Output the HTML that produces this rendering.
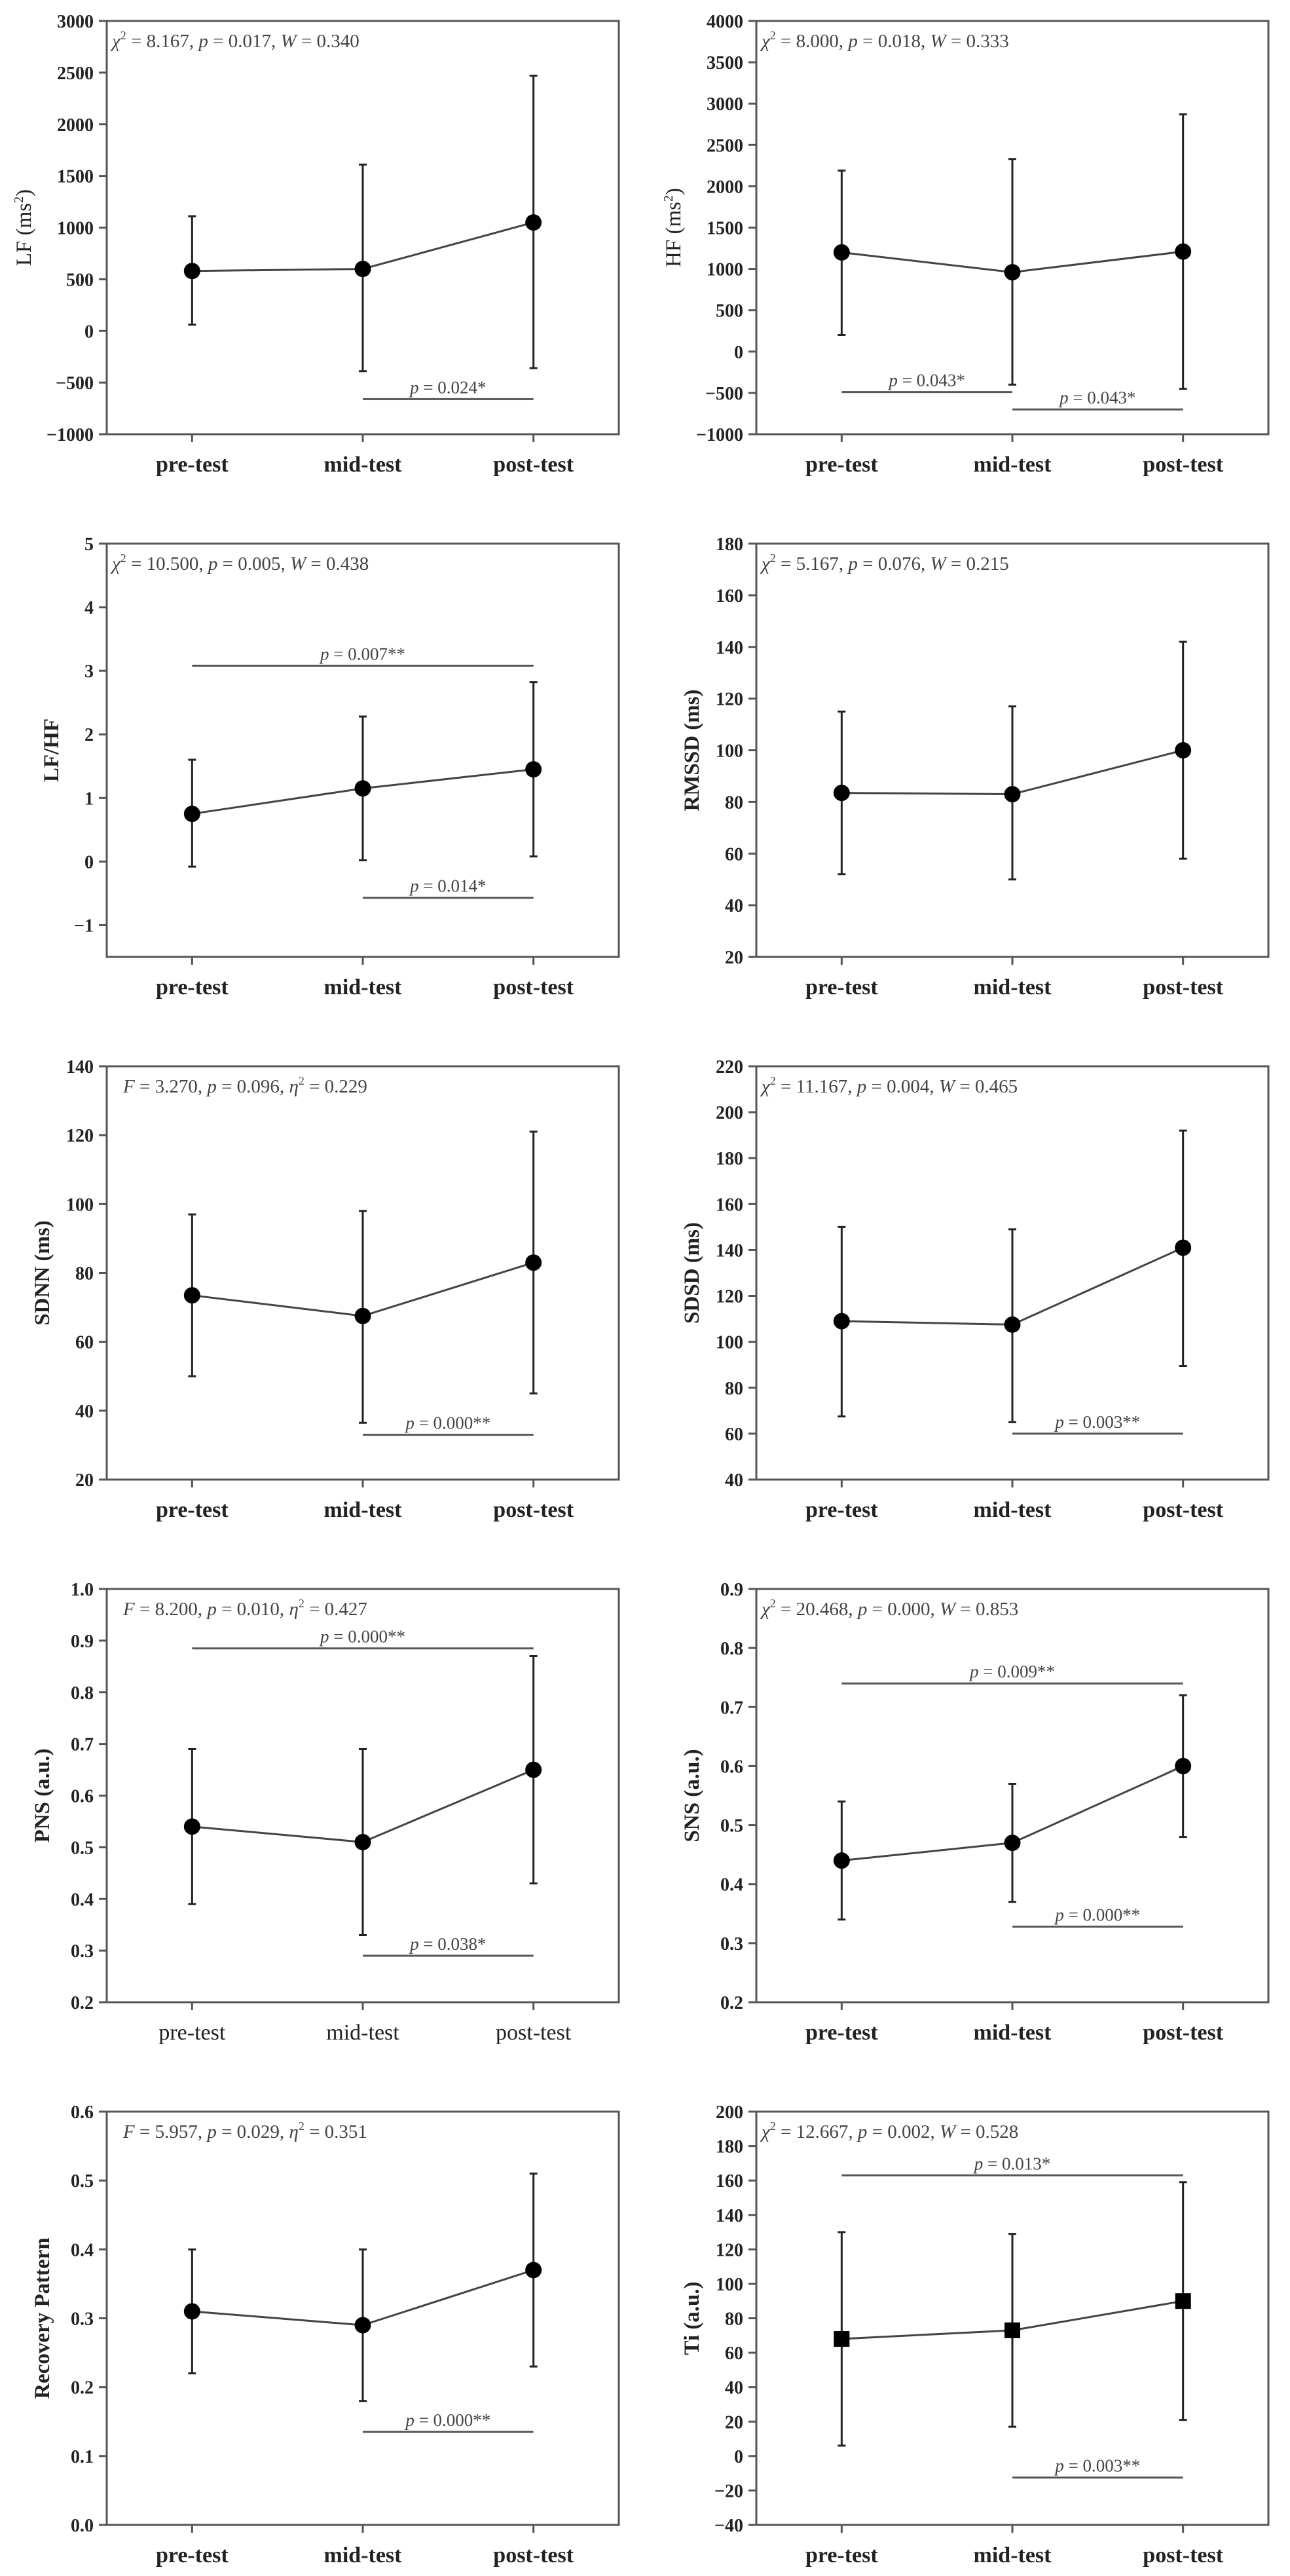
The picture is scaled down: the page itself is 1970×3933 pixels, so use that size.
<!DOCTYPE html>
<html><head><meta charset="utf-8">
<style>
html,body{margin:0;padding:0;background:#fff;}
svg{display:block;}
text{font-family:"Liberation Serif",serif;}
</style></head>
<body>
<svg id="fig" width="1970" height="3933" viewBox="0 0 1970 3933" xmlns="http://www.w3.org/2000/svg"></svg>
<script>
// ---- data arrays ----
const categories = ["pre-test","mid-test","post-test"];

const lfMeans = [580, 600, 1050];
const lfLow = [60, -390, -360];
const lfHigh = [1110, 1610, 2470];
const lfTicks = ["−1000","−500","0","500","1000","1500","2000","2500","3000"];

const hfMeans = [1200, 960, 1210];
const hfLow = [200, -400, -450];
const hfHigh = [2190, 2330, 2870];
const hfTicks = ["−1000","−500","0","500","1000","1500","2000","2500","3000","3500","4000"];

const lfhfMeans = [0.75, 1.15, 1.45];
const lfhfLow = [-0.08, 0.02, 0.08];
const lfhfHigh = [1.6, 2.28, 2.82];
const lfhfTicks = ["−1","0","1","2","3","4","5"];

const rmssdMeans = [83.5, 83, 100];
const rmssdLow = [52, 50, 58];
const rmssdHigh = [115, 117, 142];
const rmssdTicks = ["20","40","60","80","100","120","140","160","180"];

const sdnnMeans = [73.5, 67.5, 83];
const sdnnLow = [50, 36.5, 45];
const sdnnHigh = [97, 98, 121];
const sdnnTicks = ["20","40","60","80","100","120","140"];

const sdsdMeans = [109, 107.5, 141];
const sdsdLow = [67.5, 65, 89.5];
const sdsdHigh = [150, 149, 192];
const sdsdTicks = ["40","60","80","100","120","140","160","180","200","220"];

const pnsMeans = [0.54, 0.51, 0.65];
const pnsLow = [0.39, 0.33, 0.43];
const pnsHigh = [0.69, 0.69, 0.87];
const pnsTicks = ["0.2","0.3","0.4","0.5","0.6","0.7","0.8","0.9","1.0"];

const snsMeans = [0.44, 0.47, 0.60];
const snsLow = [0.34, 0.37, 0.48];
const snsHigh = [0.54, 0.57, 0.72];
const snsTicks = ["0.2","0.3","0.4","0.5","0.6","0.7","0.8","0.9"];

const rpMeans = [0.31, 0.29, 0.37];
const rpLow = [0.22, 0.18, 0.23];
const rpHigh = [0.40, 0.40, 0.51];
const rpTicks = ["0.0","0.1","0.2","0.3","0.4","0.5","0.6"];

const tiMeans = [68, 73, 90];
const tiLow = [6, 17, 21];
const tiHigh = [130, 129, 159];
const tiTicks = ["−40","−20","0","20","40","60","80","100","120","140","160","180","200"];

// significance brackets: [fromIndex, toIndex, yValue, label]
const lfSig = [[1,2,-660,"0.024*"]];
const hfSig = [[0,1,-490,"0.043*"],[1,2,-700,"0.043*"]];
const lfhfSig = [[0,2,3.08,"0.007**"],[1,2,-0.57,"0.014*"]];
const rmssdSig = [];
const sdnnSig = [[1,2,33,"0.000**"]];
const sdsdSig = [[1,2,60,"0.003**"]];
const pnsSig = [[0,2,0.885,"0.000**"],[1,2,0.29,"0.038*"]];
const snsSig = [[0,2,0.74,"0.009**"],[1,2,0.328,"0.000**"]];
const rpSig = [[1,2,0.135,"0.000**"]];
const tiSig = [[0,2,163,"0.013*"],[1,2,-12.5,"0.003**"]];

// ---- layout / config ----
const NS = "http://www.w3.org/2000/svg";
const svg = document.getElementById("fig");
const colLeft = [163, 1155], plotW = 782, plotH = 631, rowTop0 = 32, rowPitch = 798;

const panels = [
 {id:"lf", title:["LF (ms","2",")"], titleBold:false, min:-1000, max:3000, ticks:lfTicks, means:lfMeans, low:lfLow, high:lfHigh, sig:lfSig, stat:["chi","8.167","0.017","0.340"], marker:"circle", xBold:true},
 {id:"hf", title:["HF (ms","2",")"], titleBold:false, min:-1000, max:4000, ticks:hfTicks, means:hfMeans, low:hfLow, high:hfHigh, sig:hfSig, stat:["chi","8.000","0.018","0.333"], marker:"circle", xBold:true},
 {id:"lfhf", title:["LF/HF"], titleBold:true, min:-1.5, max:5, tickMin:-1, ticks:lfhfTicks, means:lfhfMeans, low:lfhfLow, high:lfhfHigh, sig:lfhfSig, stat:["chi","10.500","0.005","0.438"], marker:"circle", xBold:true},
 {id:"rmssd", title:["RMSSD (ms)"], titleBold:true, min:20, max:180, ticks:rmssdTicks, means:rmssdMeans, low:rmssdLow, high:rmssdHigh, sig:rmssdSig, stat:["chi","5.167","0.076","0.215"], marker:"circle", xBold:true},
 {id:"sdnn", title:["SDNN (ms)"], titleBold:true, min:20, max:140, ticks:sdnnTicks, means:sdnnMeans, low:sdnnLow, high:sdnnHigh, sig:sdnnSig, stat:["F","3.270","0.096","0.229"], marker:"circle", xBold:true},
 {id:"sdsd", title:["SDSD (ms)"], titleBold:true, min:40, max:220, ticks:sdsdTicks, means:sdsdMeans, low:sdsdLow, high:sdsdHigh, sig:sdsdSig, stat:["chi","11.167","0.004","0.465"], marker:"circle", xBold:true},
 {id:"pns", title:["PNS (a.u.)"], titleBold:true, min:0.2, max:1.0, ticks:pnsTicks, means:pnsMeans, low:pnsLow, high:pnsHigh, sig:pnsSig, stat:["F","8.200","0.010","0.427"], marker:"circle", xBold:false},
 {id:"sns", title:["SNS (a.u.)"], titleBold:true, min:0.2, max:0.9, ticks:snsTicks, means:snsMeans, low:snsLow, high:snsHigh, sig:snsSig, stat:["chi","20.468","0.000","0.853"], marker:"circle", xBold:true},
 {id:"rp", title:["Recovery Pattern"], titleBold:true, min:0.0, max:0.6, ticks:rpTicks, means:rpMeans, low:rpLow, high:rpHigh, sig:rpSig, stat:["F","5.957","0.029","0.351"], marker:"circle", xBold:true},
 {id:"ti", title:["Ti (a.u.)"], titleBold:true, min:-40, max:200, ticks:tiTicks, means:tiMeans, low:tiLow, high:tiHigh, sig:tiSig, stat:["chi","12.667","0.002","0.528"], marker:"square", xBold:true}
];

function el(tag, attrs, parent){
  const e = document.createElementNS(NS, tag);
  for (const k in attrs) e.setAttribute(k, attrs[k]);
  (parent||svg).appendChild(e);
  return e;
}
function tspan(parent, txt, extra){
  const t = document.createElementNS(NS, "tspan");
  if (extra) for (const k in extra) t.setAttribute(k, extra[k]);
  t.textContent = txt;
  parent.appendChild(t);
  return t;
}

panels.forEach((p, i) => {
  const col = i % 2, row = Math.floor(i / 2);
  const L = colLeft[col], T = rowTop0 + row * rowPitch, B = T + plotH;
  const g = el("g", {});
  
  
  const yScale = v => B - (v - p.min) / (p.max - p.min) * plotH;
  const xScale = k => L + plotW * (2 * k + 1) / 6;

  const frame = el("rect", {x:L, y:T, width:plotW, height:plotH, fill:"none", stroke:"#555", "stroke-width":3}, g);
  
  

  const tickMin = (p.tickMin !== undefined) ? p.tickMin : p.min;
  const step = (p.max - tickMin) / (p.ticks.length - 1);
  let maxW = 0;
  p.ticks.forEach((lab, k) => {
    const v = tickMin + k * step;
    const y = yScale(v);
    const tk = el("line", {x1:L-12, x2:L, y1:y, y2:y, stroke:"#555", "stroke-width":3}, g);
    
    
    const t = el("text", {x:L-20, y:y+10, "text-anchor":"end", "font-size":28, "font-weight":"bold", fill:"#222"}, g);
    t.textContent = lab;
    
    
    maxW = Math.max(maxW, lab.length * 14);
  });

  const tx = L - 20 - maxW - 26, ty = (T + B) / 2;
  const tt = el("text", {x:tx, y:ty, "text-anchor":"middle", "font-size":33, "font-weight":p.titleBold?"bold":"normal", fill:"#222", transform:`rotate(-90 ${tx} ${ty})`}, g);
  
  
  tspan(tt, p.title[0]);
  if (p.title.length > 1) { tspan(tt, p.title[1], {dy:-12, "font-size":20}); tspan(tt, p.title[2], {dy:12}); }

  categories.forEach((c, k) => {
    const x = xScale(k);
    const tk = el("line", {x1:x, x2:x, y1:B, y2:B+12, stroke:"#555", "stroke-width":3}, g);
    
    
    const t = el("text", {x:x, y:B+57, "text-anchor":"middle", "font-size":34, "font-weight":p.xBold?"bold":"normal", fill:"#222"}, g);
    t.textContent = c;
    
    
  });

  const st = el("text", {x: p.stat[0]==="F" ? L+25 : L+8, y:T+40, "font-size":29, fill:"#444"}, g);
  
  
  if (p.stat[0] === "chi") {
    tspan(st, "χ", {"font-style":"italic"});
    tspan(st, "2", {dy:-12, "font-size":18});
    tspan(st, " = " + p.stat[1] + ", ", {dy:12});
    tspan(st, "p", {"font-style":"italic"});
    tspan(st, " = " + p.stat[2] + ", ");
    tspan(st, "W", {"font-style":"italic"});
    tspan(st, " = " + p.stat[3]);
  } else {
    tspan(st, "F", {"font-style":"italic"});
    tspan(st, " = " + p.stat[1] + ", ");
    tspan(st, "p", {"font-style":"italic"});
    tspan(st, " = " + p.stat[2] + ", ");
    tspan(st, "η", {"font-style":"italic"});
    tspan(st, "2", {dy:-12, "font-size":18});
    tspan(st, " = " + p.stat[3], {dy:12});
  }

  p.sig.forEach(s => {
    const x1 = xScale(s[0]), x2 = xScale(s[1]), y = yScale(s[2]);
    const ln = el("line", {x1:x1, x2:x2, y1:y, y2:y, stroke:"#555", "stroke-width":3}, g);
    
    
    const t = el("text", {x:(x1+x2)/2, y:y-9, "text-anchor":"middle", "font-size":27, fill:"#444"}, g);
    
    
    tspan(t, "p", {"font-style":"italic"});
    tspan(t, " = " + s[3]);
  });

  p.means.forEach((m, k) => {
    const x = xScale(k), y1 = yScale(p.low[k]), y2 = yScale(p.high[k]);
    const eb = el("path", {d:`M${x},${y1}V${y2}M${x-6},${y1}H${x+6}M${x-6},${y2}H${x+6}`, stroke:"#222", "stroke-width":3, fill:"none"}, g);
    
    
  });

  const pts = p.means.map((m, k) => xScale(k) + "," + yScale(m)).join(" ");
  const pl = el("polyline", {points:pts, fill:"none", stroke:"#444", "stroke-width":3}, g);
  
  

  p.means.forEach((m, k) => {
    const x = xScale(k), y = yScale(m);
    let mk;
    if (p.marker === "square") mk = el("rect", {x:x-12, y:y-12, width:24, height:24, fill:"#000"}, g);
    else mk = el("circle", {cx:x, cy:y, r:12.5, fill:"#000"}, g);
    
    
  });
});
</script>
</body></html>
